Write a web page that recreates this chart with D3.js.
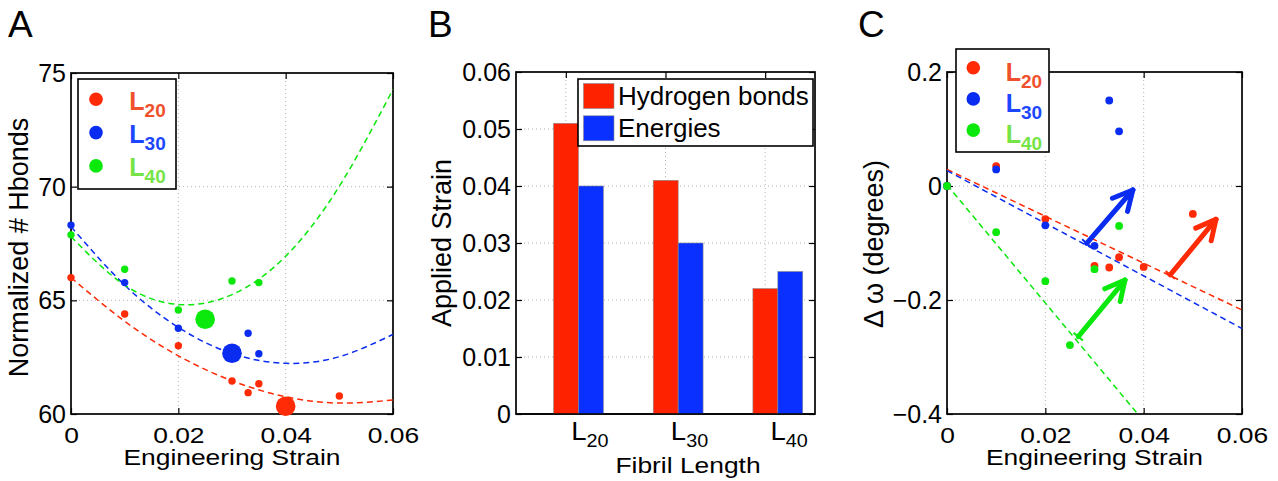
<!DOCTYPE html>
<html><head><meta charset="utf-8">
<script src="https://cdn.jsdelivr.net/npm/d3@7"></script>
<style>
body{margin:0;background:#fff}
svg{display:block}
text{font-family:"Liberation Sans",Arial,Helvetica,sans-serif;fill:#000}
</style>
</head><body>
<svg id="fig" width="1278" height="481"></svg>
<script>
// ---------------- DATA ----------------
const seriesSubs = ["20", "30", "40"];

// Panel A: normalized number of H-bonds vs engineering strain
const hbX_L20 = [0, 0.01, 0.02, 0.03, 0.033, 0.035, 0.04, 0.05];
const hbY_L20 = [66.0, 64.4, 63.0, 61.45, 60.94, 61.33, 60.34, 60.79];
const hbX_L30 = [0, 0.01, 0.02, 0.03, 0.033, 0.035];
const hbY_L30 = [68.31, 65.78, 63.77, 62.67, 63.55, 62.65];
const hbX_L40 = [0, 0.01, 0.02, 0.025, 0.03, 0.035];
const hbY_L40 = [67.88, 66.37, 64.58, 64.17, 65.85, 65.78];
const hbCritical = [0.04, 0.03, 0.025];          // strain of the highlighted (large) marker
const hbFitX = [0, 0.01, 0.02, 0.03, 0.04, 0.05, 0.06];
const hbFit_L20 = [66.00, 64.08, 62.56, 61.46, 60.76, 60.48, 60.62];
const hbFit_L30 = [68.24, 65.67, 63.81, 62.66, 62.23, 62.52, 63.50];
const hbFit_L40 = [67.80, 65.67, 64.82, 65.25, 66.94, 70.02, 74.28];
const xTicksA = [0, 0.02, 0.04, 0.06];
const yTicksA = [60, 65, 70, 75];

// Panel B: applied strain per fibril length
const fibrilSubs = ["20", "30", "40"];
const fibrilPos = [1, 2, 3];
const strainHbonds = [0.051, 0.041, 0.022];
const strainEnergies = [0.040, 0.030, 0.025];
const barLegend = ["Hydrogen bonds", "Energies"];
const yTicksB = [0, 0.01, 0.02, 0.03, 0.04, 0.05, 0.06];

// Panel C: change of omega vs engineering strain
const dwX_L20 = [0, 0.01, 0.02, 0.03, 0.033, 0.035, 0.04, 0.05];
const dwY_L20 = [0, 0.035, -0.058, -0.140, -0.143, -0.125, -0.142, -0.049];
const dwX_L30 = [0, 0.01, 0.02, 0.03, 0.033, 0.035];
const dwY_L30 = [0, 0.029, -0.069, -0.105, 0.150, 0.096];
const dwX_L40 = [0, 0.01, 0.02, 0.025, 0.03, 0.035];
const dwY_L40 = [0, -0.081, -0.167, -0.279, -0.146, -0.070];
const dwFit_L20 = [[0, 0.029], [0.06, -0.2175]];
const dwFit_L30 = [[0, 0.027], [0.06, -0.250]];
const dwFit_L40 = [[0, 0.002], [0.0388, -0.400]];
const dwArrows = [
  {s: 1, from: [0.0284, -0.1005], to: [0.0378, -0.007]},
  {s: 0, from: [0.0454, -0.156], to: [0.0547, -0.0585]},
  {s: 2, from: [0.0267, -0.2644], to: [0.0362, -0.165]}
];
const xTicksC = [0, 0.02, 0.04, 0.06];
const yTicksC = [-0.4, -0.2, 0, 0.2];

// ---------------- STYLE ----------------
const markerColor = ["#ff2a06", "#0a2cf0", "#0be80b"];
const legendTextColor = ["#f0502c", "#1c46ff", "#76e446"];
const barColor = ["#ff2200", "#0a30ff"];
const gridColor = "#b4b4b4";

const svg = d3.select("#fig");

// ---------------- HELPERS ----------------
let clipId = 0;
function frame(x, y, xt, yt, xfmt, yfmt, showXLabels) {
  const [L, R] = x.range(), [B, T] = y.range();
  const g = svg.append("g");
  const id = "clip" + (clipId++);
  svg.append("clipPath").attr("id", id).append("rect")
    .attr("x", L).attr("y", T).attr("width", R - L).attr("height", B - T);
  // grid
  g.selectAll(null).data(xt.filter(v => x(v) > L + 1 && x(v) < R - 1)).join("line")
    .attr("x1", d => x(d)).attr("x2", d => x(d)).attr("y1", T).attr("y2", B)
    .attr("stroke", gridColor).attr("stroke-width", 1).attr("stroke-dasharray", "1,3");
  g.selectAll(null).data(yt.filter(v => y(v) > T + 1 && y(v) < B - 1)).join("line")
    .attr("y1", d => y(d)).attr("y2", d => y(d)).attr("x1", L).attr("x2", R)
    .attr("stroke", gridColor).attr("stroke-width", 1).attr("stroke-dasharray", "1,3");
  // axes
  const ab = g.append("g").attr("transform", `translate(0,${B})`)
    .call(d3.axisBottom(x).tickValues(xt).tickSize(-6).tickSizeOuter(0).tickPadding(13)
      .tickFormat(showXLabels ? xfmt : () => ""));
  const at = g.append("g").attr("transform", `translate(0,${T})`)
    .call(d3.axisTop(x).tickValues(xt).tickSize(-6).tickSizeOuter(0).tickFormat(() => ""));
  const al = g.append("g").attr("transform", `translate(${L},0)`)
    .call(d3.axisLeft(y).tickValues(yt).tickSize(-6).tickSizeOuter(0).tickPadding(5).tickFormat(yfmt));
  const ar = g.append("g").attr("transform", `translate(${R},0)`)
    .call(d3.axisRight(y).tickValues(yt).tickSize(-6).tickSizeOuter(0).tickFormat(() => ""));
  [ab, at, al, ar].forEach(a => {
    a.select(".domain").remove();
    a.selectAll(".tick line").attr("stroke", "#000").attr("stroke-width", 1.2);
  });
  ab.selectAll(".tick text").attr("font-size", 22).attr("transform", "scale(1.2,1)");
  al.selectAll(".tick text").attr("font-size", 25).attr("dy", "0.34em");
  g.append("rect").attr("x", L).attr("y", T).attr("width", R - L).attr("height", B - T)
    .attr("fill", "none").attr("stroke", "#000").attr("stroke-width", 1.7);
  return id;
}
function xTitle(txt, cx, baseline) {
  svg.append("text").attr("transform", `translate(${cx},${baseline}) scale(1.2,1)`)
    .attr("text-anchor", "middle").attr("font-size", 22).text(txt);
}
function yTitle(txt, bx, cy) {
  svg.append("text").attr("transform", `translate(${bx},${cy}) rotate(-90)`)
    .attr("text-anchor", "middle").attr("font-size", 27).text(txt);
}
function panelLetter(txt, x) {
  svg.append("text").attr("x", x).attr("y", 36.5).attr("font-size", 37).text(txt);
}
function lLegend(bx, by, bw, bh, mx, my0, step, tx, tb0, tstep) {
  const g = svg.append("g");
  g.append("rect").attr("x", bx).attr("y", by).attr("width", bw).attr("height", bh)
    .attr("fill", "#fff").attr("stroke", "#000").attr("stroke-width", 1.6);
  seriesSubs.forEach((s, i) => {
    g.append("circle").attr("cx", mx).attr("cy", my0 + i * step).attr("r", 6.8).attr("fill", markerColor[i]);
    const t = g.append("text").attr("x", tx).attr("y", tb0 + i * tstep)
      .attr("font-weight", "bold").attr("font-size", 25).style("fill", legendTextColor[i]);
    t.append("tspan").text("L");
    t.append("tspan").attr("font-size", 19).attr("dy", 7).text(s);
  });
}
const fmt0 = d => d === 0 ? "0" : d3.format(".2f")(d);

// ---------------- PANEL A ----------------
const xA = d3.scaleLinear([0, 0.06], [71, 393]);
const yA = d3.scaleLinear([60, 75], [414, 73]);
const clipA = frame(xA, yA, xTicksA, yTicksA, fmt0, d => String(d), true);
const fitsA = [hbFit_L20, hbFit_L30, hbFit_L40];
const line = d3.line().curve(d3.curveNatural);
fitsA.forEach((f, i) => {
  svg.append("path").attr("clip-path", `url(#${clipA})`)
    .attr("d", line(hbFitX.map((x, k) => [xA(x), yA(f[k])])))
    .attr("fill", "none").attr("stroke", markerColor[i]).attr("stroke-width", 1.5)
    .attr("stroke-dasharray", "6,4");
});
[[hbX_L20, hbY_L20], [hbX_L30, hbY_L30], [hbX_L40, hbY_L40]].forEach(([xs, ys], i) => {
  svg.append("g").selectAll("circle").data(xs.map((x, k) => ({x, y: ys[k]}))).join("circle")
    .attr("cx", d => xA(d.x)).attr("cy", d => yA(d.y))
    .attr("r", d => d.x === hbCritical[i] ? 9.8 : 3.7)
    .attr("fill", markerColor[i]);
});
lLegend(78, 79, 98, 110, 96, 99.3, 33.3, 129.3, 110, 33);
xTitle("Engineering Strain", 232, 465);
yTitle("Normalized # Hbonds", 28, 247.5);
panelLetter("A", 8);

// ---------------- PANEL B ----------------
const xB = d3.scaleLinear([0.5, 3.5], [516, 815]);
const yB = d3.scaleLinear([0, 0.06], [414, 72]);
frame(xB, yB, fibrilPos, yTicksB, null, fmt0, false);
const barW = 0.25, barShift = 0.127;
[strainHbonds, strainEnergies].forEach((vals, j) => {
  svg.append("g").selectAll("rect").data(vals).join("rect")
    .attr("x", (d, k) => xB(fibrilPos[k] + barShift - barW + j * barW))
    .attr("width", xB(barW) - xB(0))
    .attr("y", d => yB(d)).attr("height", d => yB(0) - yB(d))
    .attr("fill", barColor[j]).attr("stroke", "#8a8a8a").attr("stroke-width", 0.6);
});
// redraw bottom axis line over bars
svg.append("line").attr("x1", 516).attr("x2", 815).attr("y1", 414).attr("y2", 414)
  .attr("stroke", "#000").attr("stroke-width", 1.7);
fibrilSubs.forEach((s, k) => {
  const t = svg.append("text")
    .attr("transform", `translate(${xB(fibrilPos[k]) + 24},439.5) scale(1.1,1)`)
    .attr("text-anchor", "middle").attr("font-size", 25);
  t.append("tspan").text("L");
  t.append("tspan").attr("font-size", 18).attr("dy", 7).text(s);
});
{
  const g = svg.append("g");
  g.append("rect").attr("x", 578).attr("y", 79).attr("width", 235).attr("height", 67)
    .attr("fill", "#fff").attr("stroke", "#000").attr("stroke-width", 1.6);
  barLegend.forEach((name, j) => {
    g.append("rect").attr("x", 583.5).attr("y", 83.5 + j * 32.3).attr("width", 30.5).attr("height", 25)
      .attr("fill", barColor[j]).attr("stroke", "#8a8a8a").attr("stroke-width", 0.6);
    g.append("text").attr("x", 618).attr("y", 105 + j * 31.7).attr("font-size", 26).text(name);
  });
}
xTitle("Fibril Length", 688, 473);
yTitle("Applied Strain", 451, 243);
panelLetter("B", 428);

// ---------------- PANEL C ----------------
const xC = d3.scaleLinear([0, 0.06], [947, 1242]);
const yC = d3.scaleLinear([-0.4, 0.2], [414, 72]);
const clipC = frame(xC, yC, xTicksC, yTicksC, fmt0, d => d === 0 ? "0" : d3.format(".1f")(d), true);
[dwFit_L20, dwFit_L30, dwFit_L40].forEach((seg, i) => {
  svg.append("path").attr("clip-path", `url(#${clipC})`)
    .attr("d", d3.line()(seg.map(p => [xC(p[0]), yC(p[1])])))
    .attr("fill", "none").attr("stroke", markerColor[i]).attr("stroke-width", 1.5)
    .attr("stroke-dasharray", "6,4");
});
[[dwX_L20, dwY_L20], [dwX_L30, dwY_L30], [dwX_L40, dwY_L40]].forEach(([xs, ys], i) => {
  svg.append("g").selectAll("circle").data(xs.map((x, k) => ({x, y: ys[k]}))).join("circle")
    .attr("cx", d => xC(d.x)).attr("cy", d => yC(d.y)).attr("r", 3.9)
    .attr("fill", markerColor[i]);
});
dwArrows.forEach(a => {
  const x0 = xC(a.from[0]), y0 = yC(a.from[1]), x1 = xC(a.to[0]), y1 = yC(a.to[1]);
  const ang = Math.atan2(y1 - y0, x1 - x0);
  const g = svg.append("g").attr("stroke", markerColor[a.s]).attr("fill", "none").attr("stroke-linecap", "round");
  g.append("line").attr("x1", x0).attr("y1", y0).attr("x2", x1).attr("y2", y1).attr("stroke-width", 5);
  const hl = 22, ha = 27 * Math.PI / 180;
  [ang + Math.PI - ha, ang + Math.PI + ha].forEach(t => {
    g.append("line").attr("x1", x1).attr("y1", y1)
      .attr("x2", x1 + hl * Math.cos(t)).attr("y2", y1 + hl * Math.sin(t)).attr("stroke-width", 5);
  });
  const p = ang + Math.PI / 2, tl = 6;
  g.append("line").attr("x1", x0 + tl * Math.cos(p)).attr("y1", y0 + tl * Math.sin(p))
    .attr("x2", x0 - tl * Math.cos(p)).attr("y2", y0 - tl * Math.sin(p))
    .attr("stroke-width", 2).attr("stroke-linecap", "butt");
});
lLegend(956, 49, 93, 103, 973.3, 67.7, 31.2, 1005.7, 81, 30.9);
xTitle("Engineering Strain", 1094.5, 465);
yTitle("\u0394 \u03c9 (degrees)", 883, 244);
panelLetter("C", 858);
</script>
</body></html>
